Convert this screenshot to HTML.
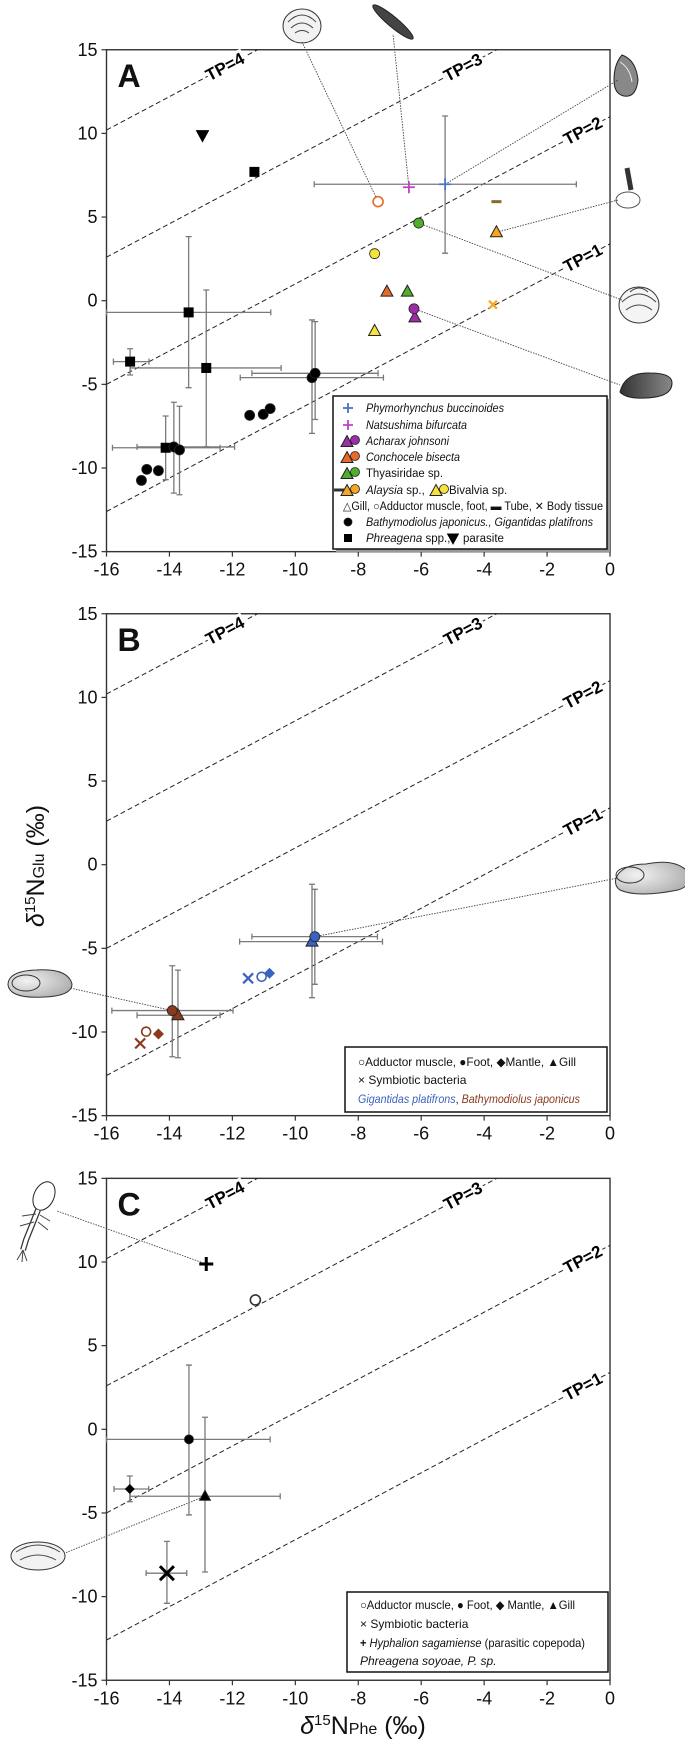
<!DOCTYPE html>
<html><head><meta charset="utf-8"><style>
html,body{margin:0;padding:0;background:#fff;}
svg{display:block;font-family:"Liberation Sans",Arial,sans-serif;}
</style></head><body>
<svg id="fig" width="685" height="1741" viewBox="0 0 685 1741" xmlns="http://www.w3.org/2000/svg">
<defs>
<radialGradient id="shellg" cx="0.3" cy="0.4" r="0.8"><stop offset="0" stop-color="#f2f2f2"/><stop offset="1" stop-color="#a8a8a8"/></radialGradient>
<linearGradient id="darkg" x1="0" x2="1"><stop offset="0" stop-color="#333"/><stop offset="1" stop-color="#888"/></linearGradient>
</defs>
<!-- icons -->
<g><ellipse cx="302" cy="26" rx="19" ry="17" fill="#f2f2f2" stroke="#333"/><path d="M288,22 q14,-14 28,0 M291,28 q11,-10 22,0 M295,33 q7,-5 14,0" fill="none" stroke="#444"/></g>
<g><ellipse cx="393" cy="22" rx="26" ry="5" transform="rotate(40 393 22)" fill="#444" stroke="#222"/></g>
<g><path d="M622,55 q14,5 16,25 q-2,18 -14,16 q-10,-2 -10,-16 q0,-16 8,-25z" fill="#888" stroke="#222"/><path d="M620,62 q10,6 12,20" fill="none" stroke="#eee"/></g>
<g><path d="M627,168 l4,22" stroke="#333" stroke-width="5"/><ellipse cx="628" cy="200" rx="12" ry="8" fill="#fff" stroke="#555"/></g>
<g><ellipse cx="639" cy="305" rx="20" ry="18" fill="#f4f4f4" stroke="#333"/><path d="M622,302 q17,-16 34,0 M626,310 q13,-10 26,0 M630,292 q9,-8 18,0" fill="none" stroke="#444"/></g>
<g><path d="M620,392 q5,-20 30,-19 q22,0 22,10 q0,14 -26,15 q-20,1 -26,-6z" fill="url(#darkg)" stroke="#222"/></g>
<g><path d="M616,878 q6,-14 30,-14 q30,-6 42,8 q4,14 -10,18 q-40,8 -58,0 q-6,-4 -4,-12z" fill="url(#shellg)" stroke="#333"/><ellipse cx="630" cy="875" rx="14" ry="8" fill="none" stroke="#333"/></g>
<g><path d="M8,985 q0,-14 28,-15 q32,-2 36,14 q0,12 -28,13 q-34,2 -36,-12z" fill="url(#shellg)" stroke="#333"/><ellipse cx="26" cy="983" rx="14" ry="8" fill="none" stroke="#333"/></g>
<g><ellipse cx="44" cy="1196" rx="10" ry="15" transform="rotate(25 44 1196)" fill="#fff" stroke="#222"/><path d="M38,1210 l-4,10 l-4,10 l-4,10 l-3,10" stroke="#333" stroke-width="6" fill="none"/><path d="M38,1210 l-4,10 l-4,10 l-4,10 l-3,10" stroke="#fff" stroke-width="3.5" fill="none"/><path d="M36,1214 l-14,2 M34,1222 l-14,4 M40,1215 l10,6 M38,1222 l10,8 M23,1250 l-6,10 M23,1250 l-1,12 M23,1250 l4,11" stroke="#444" stroke-width="1" fill="none"/></g>
<g><ellipse cx="38" cy="1556" rx="27" ry="14" fill="#f2f2f2" stroke="#333"/><path d="M16,1552 q22,-14 44,0 M20,1560 q18,-10 36,0" fill="none" stroke="#444"/></g>
</svg>
<script>
// ---------- data ----------
const xTicks=[-16,-14,-12,-10,-8,-6,-4,-2,0];
const yTicks=[-15,-10,-5,0,5,10,15];
const tpLevels=[1,2,3,4];
const tpLabelX=[-0.86,-0.86,-4.67,-12.23];
// Panel A
const aSqX=[-13.39,-15.25,-12.83,-14.12,-11.3];
const aSqY=[-0.70,-3.64,-4.02,-8.79,7.7];
const aSqXlo=[-16,-15.78,-15.25,-15.81,null];
const aSqXhi=[-10.78,-14.65,-10.45,-12.39,null];
const aSqYlo=[-5.2,-4.44,-8.73,-10.7,null];
const aSqYhi=[3.83,-2.87,0.64,-6.89,null];
const aCirX=[-13.86,-13.68,-14.89,-14.72,-14.35,-11.45,-11.02,-10.8,-9.47,-9.37];
const aCirY=[-8.74,-8.92,-10.74,-10.08,-10.16,-6.85,-6.79,-6.45,-4.6,-4.34];
const aCirXlo=[-15.03,null,null,null,null,null,null,null,-11.75,-11.38];
const aCirXhi=[-11.93,null,null,null,null,null,null,null,-7.2,-7.37];
const aCirYlo=[-11.5,-11.6,null,null,null,null,null,null,-7.93,-7.1];
const aCirYhi=[-6.07,-6.31,null,null,null,null,null,null,-1.15,-1.25];
const aParasite=[-12.95,9.9];
const aPhymo=[-5.24,6.96,-9.4,-1.07,2.84,11.04];
const aNatsu=[-6.39,6.78];
const aTriX=[-7.09,-6.44,-6.2,-3.61,-7.48];
const aTriY=[0.54,0.54,-1.0,4.09,-1.81];
const aTriC=["#e8692a","#4fae2a","#9c2fa8","#f5a623","#f5e33b"];
const aDotX=[-7.37,-6.08,-6.23,-7.48];
const aDotY=[5.92,4.64,-0.48,2.81];
const aDotC=["#e8692a","#4fae2a","#9c2fa8","#f5e33b"];
const aDotOpen=[true,false,false,false];
const aTube=[-3.61,5.92];
const aBody=[-3.72,-0.24];
// Panel B
const bBlueCir=[-9.38,-4.30];
const bBlueTri=[-9.47,-4.6];
const bBlueErrX=[[-11.77,-7.23],[-11.38,-7.39]];
const bBlueErrY=[[-7.95,-1.17],[-7.15,-1.47]];
const bBlueX=[-11.5,-6.79];
const bBlueOpen=[-11.07,-6.7];
const bBlueDia=[-10.82,-6.49];
const bBrCir=[-13.91,-8.72];
const bBrTri=[-13.73,-9.0];
const bBrErrX=[[-15.83,-11.98],[-15.03,-12.39]];
const bBrErrY=[[-11.48,-6.04],[-11.54,-6.3]];
const bBrX=[-14.93,-10.68];
const bBrOpen=[-14.74,-9.98];
const bBrDia=[-14.35,-10.12];
// Panel C
const cPlus=[-12.83,9.88];
const cOpen=[-11.27,7.73];
const cCir=[-13.38,-0.6,-16,-10.8,-5.12,3.84];
const cDia=[-15.26,-3.57,-15.76,-14.66,-4.33,-2.79];
const cTri=[-12.87,-4.0,-15.25,-10.48,-8.53,0.72];
const cX=[-14.08,-8.6,-14.74,-13.45,-10.4,-6.7];

// ---------- helpers ----------
const NS="http://www.w3.org/2000/svg";
const svg=document.getElementById('fig');
function mk(tag,attrs,parent){const e=document.createElementNS(NS,tag);for(const k in attrs)e.setAttribute(k,attrs[k]);(parent||svg).appendChild(e);return e;}
const X0=106.5,XS=31.47,YS=16.73;
const panels=[{y0:300.7,letter:"A"},{y0:864.7,letter:"B"},{y0:1429.3,letter:"C"}];
function sx(v){return X0+(v+16)*XS;}
function syf(p){return v=>p.y0-v*YS;}

function marker(kind,x,y,color,name,size,open){
  let e;const s=size||5;
  if(kind==='circle'){e=mk('circle',{cx:x,cy:y,r:s,fill:open?'#fff':color,stroke:open?color:'#222','stroke-width':open?1.6:0.8});}
  else if(kind==='tri'){e=mk('path',{d:`M${x},${y-s*1.3} L${x+s*1.2},${y+s*0.9} L${x-s*1.2},${y+s*0.9}Z`,fill:color,stroke:'#222','stroke-width':1});}
  else if(kind==='tridown'){e=mk('path',{d:`M${x-s*1.2},${y-s*0.9} L${x+s*1.2},${y-s*0.9} L${x},${y+s*1.3}Z`,fill:color,stroke:color});}
  else if(kind==='square'){e=mk('rect',{x:x-s,y:y-s,width:2*s,height:2*s,fill:color});}
  else if(kind==='diamond'){e=mk('path',{d:`M${x},${y-s} L${x+s},${y} L${x},${y+s} L${x-s},${y}Z`,fill:color});}
  else if(kind==='plus'){e=mk('path',{d:`M${x-s},${y} H${x+s} M${x},${y-s} V${y+s}`,stroke:color,'stroke-width':size>6?3:1.8,fill:'none'});}
  else if(kind==='x'){e=mk('path',{d:`M${x-s},${y-s} L${x+s},${y+s} M${x+s},${y-s} L${x-s},${y+s}`,stroke:color,'stroke-width':size>6?3:2.2,fill:'none'});}
  else if(kind==='dash'){e=mk('rect',{x:x-5,y:y-1.5,width:10,height:3,fill:color});}
  
  
  return e;
}
function errX(x1,x2,y,name){
  const e=mk('path',{d:`M${x1},${y} H${x2} M${x1},${y-3} V${y+3} M${x2},${y-3} V${y+3}`,stroke:'#7a7a7a','stroke-width':1.3,fill:'none'});
  
  
}
function errY(x,y1,y2,name){
  const e=mk('path',{d:`M${x},${y1} V${y2} M${x-3},${y1} H${x+3} M${x-3},${y2} H${x+3}`,stroke:'#7a7a7a','stroke-width':1.3,fill:'none'});
  
  
}
function leader(x1,y1,x2,y2,name){
  const e=mk('line',{x1,y1,x2,y2,stroke:'#444','stroke-width':0.9,'stroke-dasharray':'1.5,1.2'});
  
  
}
function txt(x,y,s,opts,name){
  const e=mk('text',Object.assign({x,y,'font-size':12,fill:'#111'},opts||{}));
  e.textContent=s;
  
  
  return e;
}

// ---------- axes ----------
panels.forEach((p,pi)=>{
  const sy=syf(p);const top=sy(15),bot=sy(-15),left=sx(-16),right=sx(0);
  const fr=mk('rect',{x:left,y:top,width:right-left,height:bot-top,fill:'none',stroke:'#333','stroke-width':1.4});
  
  
  yTicks.forEach(v=>{
    const t=mk('line',{x1:left-5,x2:left,y1:sy(v),y2:sy(v),stroke:'#333','stroke-width':1.2});
    
    
    txt(left-9,sy(v)+6,String(v),{'font-size':18,'text-anchor':'end'},'y-tick-label');
  });
  xTicks.forEach(v=>{
    const t=mk('line',{x1:sx(v),x2:sx(v),y1:bot,y2:bot+5,stroke:'#333','stroke-width':1.2});
    
    
    txt(sx(v),bot+24,String(v),{'font-size':18,'text-anchor':'middle'},'x-tick-label');
  });
  tpLevels.forEach((tp,i)=>{
    const c=3.4+7.6*(tp-1);
    const xe=Math.min(0,15-c);
    const l=mk('line',{x1:sx(-16),y1:sy(-16+c),x2:sx(xe),y2:sy(xe+c),stroke:'#222','stroke-width':1,'stroke-dasharray':'5,3'});
    
    
  });
  tpLevels.forEach((tp,i)=>{
    const c=3.4+7.6*(tp-1);const lx=tpLabelX[i];
    const X=sx(lx),Y=sy(lx+c);
    txt(X,Y,'TP='+tp,{'font-size':17,'font-weight':'bold','text-anchor':'middle','dominant-baseline':'central',transform:`rotate(-28 ${X} ${Y})`,stroke:'#fff','stroke-width':6,'paint-order':'stroke',fill:'#000'},'tp-label-'+tp);
  });
  txt(left+11,top+37,p.letter,{'font-size':32,'font-weight':'bold'},'panel-label-'+p.letter.toLowerCase());
});
(function(){
  const t=mk('text',{x:0,y:0,'font-size':25,transform:'translate(44 866) rotate(-90)','text-anchor':'middle',fill:'#111'});
  t.innerHTML='<tspan font-style="italic">δ</tspan><tspan font-size="15" dy="-9">15</tspan><tspan dy="9">N</tspan><tspan font-size="16">Glu</tspan> (‰)';
  
  
  const u=mk('text',{x:363,y:1734,'font-size':25,'text-anchor':'middle',fill:'#111'});
  u.innerHTML='<tspan font-style="italic">δ</tspan><tspan font-size="15" dy="-9">15</tspan><tspan dy="9">N</tspan><tspan font-size="16">Phe</tspan> (‰)';
  
  
})();

// ---------- Panel A ----------
(function(){
  const sy=syf(panels[0]);
  leader(sx(aDotX[0]),sy(aDotY[0]),302,42,'leader-conchocele');
  leader(sx(aNatsu[0]),sy(aNatsu[1]),393,34,'leader-natsushima');
  leader(sx(aPhymo[0]),sy(aPhymo[1]),618,80,'leader-phymorhynchus');
  leader(sx(aTriX[3]),sy(aTriY[3]),618,200,'leader-alaysia');
  leader(sx(aDotX[1]),sy(aDotY[1]),622,300,'leader-thyasiridae');
  leader(sx(aDotX[2]),sy(aDotY[2]),620,385,'leader-acharax');
  aSqX.forEach((x,i)=>{
    if(aSqXlo[i]!==null)errX(sx(aSqXlo[i]),sx(aSqXhi[i]),sy(aSqY[i]),'phreagena-x-error');
    if(aSqYlo[i]!==null)errY(sx(x),sy(aSqYlo[i]),sy(aSqYhi[i]),'phreagena-y-error');
  });
  aCirX.forEach((x,i)=>{
    if(aCirXlo[i]!==null)errX(sx(aCirXlo[i]),sx(aCirXhi[i]),sy(aCirY[i]),'mussel-x-error');
    if(aCirYlo[i]!==null)errY(sx(x),sy(aCirYlo[i]),sy(aCirYhi[i]),'mussel-y-error');
  });
  errX(sx(aPhymo[2]),sx(aPhymo[3]),sy(aPhymo[1]),'phymorhynchus-x-error');
  errY(sx(aPhymo[0]),sy(aPhymo[4]),sy(aPhymo[5]),'phymorhynchus-y-error');
  aSqX.forEach((x,i)=>marker('square',sx(x),sy(aSqY[i]),'#000','phreagena-point',5));
  aCirX.forEach((x,i)=>marker('circle',sx(x),sy(aCirY[i]),'#000','mussel-point',5));
  marker('tridown',sx(aParasite[0]),sy(aParasite[1]),'#000','parasite-point',5);
  marker('plus',sx(aPhymo[0]),sy(aPhymo[1]),'#4a72c8','phymorhynchus-point',6);
  marker('plus',sx(aNatsu[0]),sy(aNatsu[1]),'#c040c8','natsushima-point',6);
  aTriX.forEach((x,i)=>marker('tri',sx(x),sy(aTriY[i]),aTriC[i],'gill-point',5));
  aDotX.forEach((x,i)=>marker('circle',sx(x),sy(aDotY[i]),aDotC[i],'muscle-point',5,aDotOpen[i]));
  marker('dash',sx(aTube[0]),sy(aTube[1]),'#8a6a2a','alaysia-tube-point');
  marker('x',sx(aBody[0]),sy(aBody[1]),'#f5a623','body-tissue-point',4);
  const sh=mk('rect',{x:336,y:399,width:274,height:153,fill:'#999'});
  
  
  const lb=mk('rect',{x:333,y:396,width:274,height:153,fill:'#fff',stroke:'#111','stroke-width':1.5});
  
  
  const rows=[408,425,441,457,473,490,506,522,538];
  const F=11.5;
  marker('plus',348,rows[0],'#4a72c8','legend-phymorhynchus-symbol',5);
  txt(366,rows[0]+4,'Phymorhynchus buccinoides',{'font-style':'italic','font-size':F,textLength:138,lengthAdjust:'spacingAndGlyphs'},'legend-phymorhynchus');
  marker('plus',348,rows[1],'#c040c8','legend-natsushima-symbol',5);
  txt(366,rows[1]+4,'Natsushima bifurcata',{'font-style':'italic','font-size':F,textLength:101,lengthAdjust:'spacingAndGlyphs'},'legend-natsushima');
  const trio=[["#9c2fa8","Acharax johnsoni",true,83],["#e8692a","Conchocele bisecta",true,94],["#4fae2a","Thyasiridae sp.",false,77]];
  trio.forEach((t,i)=>{const y=rows[2+i];marker('tri',347,y+1,t[0],'legend-gill-symbol',5);marker('circle',355,y-1,t[0],'legend-muscle-symbol',4.5);txt(366,y+4,t[1],Object.assign({'font-size':F,textLength:t[3],lengthAdjust:'spacingAndGlyphs'},t[2]?{'font-style':'italic'}:{}),'legend-species');});
  let y=rows[5];
  marker('dash',339,y,'#333','legend-tube-symbol');
  marker('tri',347,y+1,'#f5a623','legend-alaysia-gill',5);marker('circle',355,y-1,'#f5a623','legend-alaysia-muscle',4.5);
  const t1=txt(366,y+4,'',{'font-size':F},'legend-alaysia');t1.innerHTML='<tspan font-style="italic">Alaysia</tspan> sp.,';
  marker('tri',436,y+1,'#f5e33b','legend-bivalvia-gill',5);marker('circle',444,y-1,'#f5e33b','legend-bivalvia-muscle',4.5);
  txt(449,y+4,'Bivalvia sp.',{'font-size':F},'legend-bivalvia');
  y=rows[6];
  txt(343,y+4,'△Gill, ○Adductor muscle, foot, ▬ Tube, ✕ Body tissue',{'font-size':F,textLength:260,lengthAdjust:'spacingAndGlyphs'},'legend-tissue-key');
  marker('circle',348,rows[7],'#000','legend-mussel-symbol',4);
  txt(366,rows[7]+4,'Bathymodiolus japonicus., Gigantidas platifrons',{'font-style':'italic','font-size':F,textLength:227,lengthAdjust:'spacingAndGlyphs'},'legend-mussels');
  marker('square',348,rows[8],'#000','legend-phreagena-symbol',4);
  const t2=txt(366,rows[8]+4,'',{'font-size':F},'legend-phreagena');t2.innerHTML='<tspan font-style="italic">Phreagena</tspan> spp.,';
  marker('tridown',453,rows[8],'#000','legend-parasite-symbol',4.5);
  txt(463,rows[8]+4,'parasite',{'font-size':F},'legend-parasite');
})();

// ---------- Panel B ----------
(function(){
  const sy=syf(panels[1]);
  const blue='#3c62c0',brown='#8b3a1e';
  leader(sx(bBlueCir[0]),sy(bBlueCir[1]),618,878,'leader-gigantidas');
  leader(sx(bBrCir[0]),sy(bBrCir[1]),70,988,'leader-bathymodiolus');
  bBlueErrX.forEach((r,i)=>errX(sx(r[0]),sx(r[1]),sy(i?bBlueCir[1]:bBlueTri[1]),'gigantidas-x-error'));
  bBlueErrY.forEach((r,i)=>errY(sx(i?bBlueCir[0]:bBlueTri[0]),sy(r[0]),sy(r[1]),'gigantidas-y-error'));
  bBrErrX.forEach((r,i)=>errX(sx(r[0]),sx(r[1]),sy(i?bBrTri[1]:bBrCir[1]),'bathymodiolus-x-error'));
  bBrErrY.forEach((r,i)=>errY(sx(i?bBrTri[0]:bBrCir[0]),sy(r[0]),sy(r[1]),'bathymodiolus-y-error'));
  marker('tri',sx(bBlueTri[0]),sy(bBlueTri[1]),blue,'gigantidas-gill',5);
  marker('circle',sx(bBlueCir[0]),sy(bBlueCir[1]),blue,'gigantidas-foot',5);
  marker('x',sx(bBlueX[0]),sy(bBlueX[1]),blue,'gigantidas-bacteria',5);
  marker('circle',sx(bBlueOpen[0]),sy(bBlueOpen[1]),blue,'gigantidas-adductor',4.5,true);
  marker('diamond',sx(bBlueDia[0]),sy(bBlueDia[1]),blue,'gigantidas-mantle',5.5);
  marker('tri',sx(bBrTri[0]),sy(bBrTri[1]),brown,'bathymodiolus-gill',5);
  marker('circle',sx(bBrCir[0]),sy(bBrCir[1]),brown,'bathymodiolus-foot',5);
  marker('x',sx(bBrX[0]),sy(bBrX[1]),brown,'bathymodiolus-bacteria',5);
  marker('circle',sx(bBrOpen[0]),sy(bBrOpen[1]),brown,'bathymodiolus-adductor',4.5,true);
  marker('diamond',sx(bBrDia[0]),sy(bBrDia[1]),brown,'bathymodiolus-mantle',5.5);
  const lb=mk('rect',{x:345,y:1047,width:262,height:65,fill:'#fff',stroke:'#111','stroke-width':1.5});
  
  
  txt(358,1066,'○Adductor muscle,  ●Foot, ◆Mantle, ▲Gill',{textLength:218,lengthAdjust:'spacingAndGlyphs'},'legend-tissues-b');
  txt(358,1084,'× Symbiotic bacteria',{},'legend-bacteria-b');
  const t=txt(358,1103,'',{'font-style':'italic',textLength:222,lengthAdjust:'spacingAndGlyphs'},'legend-species-b');
  t.innerHTML='<tspan fill="#3c62c0">Gigantidas platifrons</tspan><tspan font-style="normal">, </tspan><tspan fill="#8b3a1e">Bathymodiolus japonicus</tspan>';
})();

// ---------- Panel C ----------
(function(){
  const sy=syf(panels[2]);
  leader(sx(cPlus[0]),sy(cPlus[1]),57,1211,'leader-copepod');
  leader(sx(cTri[0]),sy(cTri[1]),65,1553,'leader-phreagena');
  [cCir,cDia,cTri,cX].forEach((a,i)=>{
    const nm=['foot','mantle','gill','bacteria'][i];
    errX(sx(a[2]),sx(a[3]),sy(a[1]),nm+'-x-error');
    errY(sx(a[0]),sy(a[4]),sy(a[5]),nm+'-y-error');
  });
  marker('plus',sx(cPlus[0]),sy(cPlus[1]),'#000','copepod-point',7);
  marker('circle',sx(cOpen[0]),sy(cOpen[1]),'#333','adductor-point',5,true);
  marker('circle',sx(cCir[0]),sy(cCir[1]),'#000','foot-point',4.5);
  marker('diamond',sx(cDia[0]),sy(cDia[1]),'#000','mantle-point',5);
  marker('tri',sx(cTri[0]),sy(cTri[1]),'#000','gill-point',4.5);
  marker('x',sx(cX[0]),sy(cX[1]),'#000','bacteria-point',7);
  const lb=mk('rect',{x:347,y:1592,width:261,height:80,fill:'#fff',stroke:'#111','stroke-width':1.5});
  
  
  txt(360,1609,'○Adductor muscle,  ● Foot,  ◆ Mantle,  ▲Gill',{textLength:215,lengthAdjust:'spacingAndGlyphs'},'legend-tissues-c');
  txt(360,1628,'× Symbiotic bacteria',{},'legend-bacteria-c');
  const t=txt(360,1647,'',{textLength:225,lengthAdjust:'spacingAndGlyphs'},'legend-copepod-c');
  t.innerHTML='<tspan font-weight="bold">+</tspan> <tspan font-style="italic">Hyphalion sagamiense</tspan> (parasitic copepoda)';
  txt(360,1665,'Phreagena soyoae, P. sp.',{'font-style':'italic'},'legend-phreagena-c');
})();
</script>
</body></html>
